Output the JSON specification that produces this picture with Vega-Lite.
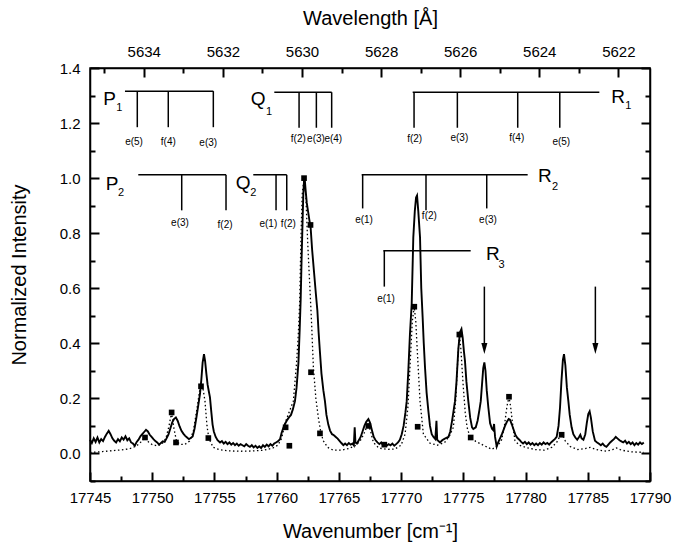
{
  "$schema": "https://vega.github.io/schema/vega-lite/v6.json",
  "width": 560,
  "height": 413,
  "autosize": "none",
  "padding": {"left": 90, "top": 68, "right": 25, "bottom": 64},
  "background": "white",
  "config": {
    "view": {"stroke": "black", "strokeWidth": 1.5},
    "font": "Liberation Sans",
    "axis": {
      "domainColor": "black", "domainWidth": 1.5,
      "labelColor": "black", "labelFontSize": 15, "labelFont": "Liberation Sans", "labelOverlap": false, "labelFlush": false,
      "titleFont": "Liberation Sans", "titleFontSize": 20, "titleFontWeight": "normal", "titleColor": "black",
      "grid": false, "ticks": true, "zindex": 1
    }
  },
  "datasets": {
    "obs": [
      {"x":17745.0,"y":0.050},{"x":17745.15,"y":0.038},{"x":17745.3,"y":0.055},{"x":17745.45,"y":0.042},{"x":17745.6,"y":0.058},{"x":17745.75,"y":0.040},{"x":17745.9,"y":0.052},{"x":17746.05,"y":0.045},{"x":17746.2,"y":0.060},{"x":17746.35,"y":0.072},{"x":17746.5,"y":0.082},{"x":17746.65,"y":0.070},{"x":17746.8,"y":0.055},{"x":17746.95,"y":0.046},{"x":17747.1,"y":0.040},{"x":17747.25,"y":0.052},{"x":17747.4,"y":0.044},{"x":17747.55,"y":0.058},{"x":17747.7,"y":0.050},{"x":17747.85,"y":0.062},{"x":17748.0,"y":0.048},{"x":17748.15,"y":0.055},{"x":17748.3,"y":0.040},{"x":17748.45,"y":0.036},{"x":17748.6,"y":0.028},{"x":17748.75,"y":0.042},{"x":17748.9,"y":0.050},{"x":17749.05,"y":0.062},{"x":17749.2,"y":0.070},{"x":17749.35,"y":0.078},{"x":17749.5,"y":0.086},{"x":17749.65,"y":0.080},{"x":17749.8,"y":0.068},{"x":17749.95,"y":0.060},{"x":17750.1,"y":0.052},{"x":17750.25,"y":0.045},{"x":17750.4,"y":0.040},{"x":17750.55,"y":0.032},{"x":17750.7,"y":0.038},{"x":17750.85,"y":0.044},{"x":17751.0,"y":0.042},{"x":17751.15,"y":0.055},{"x":17751.3,"y":0.068},{"x":17751.45,"y":0.090},{"x":17751.6,"y":0.112},{"x":17751.75,"y":0.125},{"x":17751.9,"y":0.131},{"x":17752.05,"y":0.118},{"x":17752.2,"y":0.098},{"x":17752.35,"y":0.082},{"x":17752.5,"y":0.072},{"x":17752.65,"y":0.064},{"x":17752.8,"y":0.058},{"x":17752.95,"y":0.052},{"x":17753.1,"y":0.056},{"x":17753.25,"y":0.062},{"x":17753.4,"y":0.090},{"x":17753.55,"y":0.130},{"x":17753.7,"y":0.175},{"x":17753.84,"y":0.216},{"x":17753.95,"y":0.270},{"x":17754.05,"y":0.330},{"x":17754.16,"y":0.361},{"x":17754.25,"y":0.335},{"x":17754.35,"y":0.290},{"x":17754.45,"y":0.250},{"x":17754.55,"y":0.225},{"x":17754.64,"y":0.204},{"x":17754.75,"y":0.150},{"x":17754.85,"y":0.105},{"x":17754.95,"y":0.080},{"x":17755.1,"y":0.060},{"x":17755.25,"y":0.048},{"x":17755.45,"y":0.040},{"x":17755.6,"y":0.045},{"x":17755.75,"y":0.036},{"x":17755.9,"y":0.042},{"x":17756.05,"y":0.034},{"x":17756.2,"y":0.040},{"x":17756.35,"y":0.032},{"x":17756.5,"y":0.038},{"x":17756.65,"y":0.030},{"x":17756.8,"y":0.036},{"x":17756.95,"y":0.028},{"x":17757.1,"y":0.034},{"x":17757.25,"y":0.030},{"x":17757.4,"y":0.026},{"x":17757.55,"y":0.034},{"x":17757.7,"y":0.028},{"x":17757.85,"y":0.024},{"x":17758.0,"y":0.030},{"x":17758.15,"y":0.022},{"x":17758.3,"y":0.028},{"x":17758.45,"y":0.020},{"x":17758.6,"y":0.026},{"x":17758.75,"y":0.020},{"x":17758.9,"y":0.030},{"x":17759.05,"y":0.024},{"x":17759.2,"y":0.032},{"x":17759.35,"y":0.026},{"x":17759.5,"y":0.034},{"x":17759.65,"y":0.028},{"x":17759.8,"y":0.036},{"x":17759.95,"y":0.040},{"x":17760.1,"y":0.044},{"x":17760.27,"y":0.052},{"x":17760.4,"y":0.075},{"x":17760.55,"y":0.095},{"x":17760.7,"y":0.110},{"x":17760.85,"y":0.122},{"x":17761.0,"y":0.132},{"x":17761.15,"y":0.140},{"x":17761.3,"y":0.160},{"x":17761.47,"y":0.190},{"x":17761.6,"y":0.240},{"x":17761.75,"y":0.330},{"x":17761.85,"y":0.450},{"x":17761.93,"y":0.560},{"x":17762.0,"y":0.700},{"x":17762.08,"y":0.840},{"x":17762.14,"y":0.940},{"x":17762.2,"y":0.990},{"x":17762.25,"y":1.000},{"x":17762.32,"y":0.960},{"x":17762.42,"y":0.910},{"x":17762.52,"y":0.880},{"x":17762.62,"y":0.850},{"x":17762.73,"y":0.820},{"x":17762.85,"y":0.740},{"x":17763.0,"y":0.660},{"x":17763.15,"y":0.580},{"x":17763.27,"y":0.520},{"x":17763.37,"y":0.440},{"x":17763.47,"y":0.373},{"x":17763.6,"y":0.290},{"x":17763.75,"y":0.230},{"x":17763.88,"y":0.190},{"x":17764.0,"y":0.140},{"x":17764.15,"y":0.105},{"x":17764.29,"y":0.083},{"x":17764.45,"y":0.070},{"x":17764.6,"y":0.066},{"x":17764.75,"y":0.060},{"x":17764.9,"y":0.054},{"x":17765.05,"y":0.046},{"x":17765.2,"y":0.038},{"x":17765.36,"y":0.030},{"x":17765.5,"y":0.036},{"x":17765.65,"y":0.030},{"x":17765.8,"y":0.038},{"x":17765.95,"y":0.032},{"x":17766.1,"y":0.036},{"x":17766.2,"y":0.030},{"x":17766.27,"y":0.095},{"x":17766.33,"y":0.040},{"x":17766.45,"y":0.036},{"x":17766.6,"y":0.048},{"x":17766.75,"y":0.060},{"x":17766.9,"y":0.080},{"x":17767.05,"y":0.100},{"x":17767.2,"y":0.115},{"x":17767.37,"y":0.125},{"x":17767.5,"y":0.112},{"x":17767.65,"y":0.085},{"x":17767.8,"y":0.060},{"x":17767.95,"y":0.048},{"x":17768.1,"y":0.040},{"x":17768.25,"y":0.034},{"x":17768.4,"y":0.040},{"x":17768.55,"y":0.030},{"x":17768.7,"y":0.036},{"x":17768.85,"y":0.028},{"x":17769.0,"y":0.034},{"x":17769.15,"y":0.030},{"x":17769.3,"y":0.036},{"x":17769.45,"y":0.028},{"x":17769.6,"y":0.034},{"x":17769.75,"y":0.040},{"x":17769.9,"y":0.050},{"x":17770.05,"y":0.070},{"x":17770.2,"y":0.100},{"x":17770.35,"y":0.150},{"x":17770.45,"y":0.190},{"x":17770.58,"y":0.300},{"x":17770.71,"y":0.434},{"x":17770.85,"y":0.543},{"x":17770.98,"y":0.785},{"x":17771.1,"y":0.880},{"x":17771.2,"y":0.930},{"x":17771.28,"y":0.937},{"x":17771.38,"y":0.880},{"x":17771.52,"y":0.785},{"x":17771.62,"y":0.600},{"x":17771.73,"y":0.495},{"x":17771.82,"y":0.400},{"x":17771.92,"y":0.313},{"x":17772.05,"y":0.220},{"x":17772.19,"y":0.155},{"x":17772.32,"y":0.100},{"x":17772.46,"y":0.070},{"x":17772.6,"y":0.060},{"x":17772.75,"y":0.052},{"x":17772.84,"y":0.119},{"x":17772.9,"y":0.050},{"x":17773.0,"y":0.045},{"x":17773.13,"y":0.040},{"x":17773.3,"y":0.048},{"x":17773.45,"y":0.052},{"x":17773.6,"y":0.056},{"x":17773.8,"y":0.060},{"x":17773.95,"y":0.080},{"x":17774.1,"y":0.120},{"x":17774.2,"y":0.150},{"x":17774.33,"y":0.190},{"x":17774.45,"y":0.260},{"x":17774.6,"y":0.380},{"x":17774.73,"y":0.440},{"x":17774.85,"y":0.452},{"x":17774.95,"y":0.420},{"x":17775.05,"y":0.370},{"x":17775.13,"y":0.337},{"x":17775.25,"y":0.260},{"x":17775.4,"y":0.190},{"x":17775.55,"y":0.130},{"x":17775.7,"y":0.095},{"x":17775.8,"y":0.089},{"x":17775.9,"y":0.092},{"x":17776.0,"y":0.095},{"x":17776.15,"y":0.120},{"x":17776.3,"y":0.160},{"x":17776.4,"y":0.190},{"x":17776.5,"y":0.250},{"x":17776.6,"y":0.310},{"x":17776.69,"y":0.331},{"x":17776.78,"y":0.300},{"x":17776.88,"y":0.230},{"x":17777.01,"y":0.167},{"x":17777.15,"y":0.110},{"x":17777.3,"y":0.090},{"x":17777.4,"y":0.085},{"x":17777.47,"y":0.107},{"x":17777.55,"y":0.060},{"x":17777.68,"y":0.025},{"x":17777.8,"y":0.040},{"x":17777.95,"y":0.055},{"x":17778.1,"y":0.070},{"x":17778.21,"y":0.083},{"x":17778.35,"y":0.100},{"x":17778.5,"y":0.115},{"x":17778.65,"y":0.125},{"x":17778.75,"y":0.123},{"x":17778.9,"y":0.105},{"x":17779.05,"y":0.085},{"x":17779.2,"y":0.066},{"x":17779.35,"y":0.056},{"x":17779.5,"y":0.050},{"x":17779.65,"y":0.042},{"x":17779.8,"y":0.036},{"x":17779.95,"y":0.042},{"x":17780.1,"y":0.034},{"x":17780.25,"y":0.040},{"x":17780.4,"y":0.032},{"x":17780.55,"y":0.038},{"x":17780.7,"y":0.030},{"x":17780.85,"y":0.036},{"x":17781.0,"y":0.030},{"x":17781.15,"y":0.038},{"x":17781.3,"y":0.032},{"x":17781.45,"y":0.040},{"x":17781.6,"y":0.034},{"x":17781.75,"y":0.038},{"x":17781.9,"y":0.032},{"x":17782.05,"y":0.040},{"x":17782.2,"y":0.046},{"x":17782.35,"y":0.052},{"x":17782.5,"y":0.060},{"x":17782.65,"y":0.100},{"x":17782.77,"y":0.167},{"x":17782.88,"y":0.260},{"x":17783.0,"y":0.340},{"x":17783.09,"y":0.361},{"x":17783.2,"y":0.320},{"x":17783.32,"y":0.240},{"x":17783.44,"y":0.190},{"x":17783.55,"y":0.140},{"x":17783.7,"y":0.095},{"x":17783.84,"y":0.070},{"x":17784.0,"y":0.058},{"x":17784.15,"y":0.050},{"x":17784.3,"y":0.060},{"x":17784.4,"y":0.068},{"x":17784.5,"y":0.055},{"x":17784.65,"y":0.050},{"x":17784.8,"y":0.070},{"x":17784.92,"y":0.110},{"x":17785.04,"y":0.143},{"x":17785.15,"y":0.153},{"x":17785.25,"y":0.130},{"x":17785.4,"y":0.080},{"x":17785.58,"y":0.046},{"x":17785.75,"y":0.040},{"x":17785.9,"y":0.035},{"x":17786.05,"y":0.030},{"x":17786.2,"y":0.036},{"x":17786.35,"y":0.028},{"x":17786.5,"y":0.024},{"x":17786.65,"y":0.032},{"x":17786.8,"y":0.040},{"x":17786.95,"y":0.046},{"x":17787.1,"y":0.052},{"x":17787.25,"y":0.060},{"x":17787.4,"y":0.054},{"x":17787.55,"y":0.048},{"x":17787.7,"y":0.044},{"x":17787.85,"y":0.040},{"x":17788.0,"y":0.046},{"x":17788.15,"y":0.036},{"x":17788.3,"y":0.042},{"x":17788.45,"y":0.034},{"x":17788.6,"y":0.040},{"x":17788.75,"y":0.030},{"x":17788.9,"y":0.038},{"x":17789.05,"y":0.032},{"x":17789.2,"y":0.040},{"x":17789.35,"y":0.034},{"x":17789.5,"y":0.040}
    ],
    "sim": [
      {"x":17745.0,"y":0.004},{"x":17745.5,"y":0.005},{"x":17746.0,"y":0.007},{"x":17746.5,"y":0.009},{"x":17747.0,"y":0.011},{"x":17747.5,"y":0.013},{"x":17748.0,"y":0.016},{"x":17748.4,"y":0.020},{"x":17748.8,"y":0.030},{"x":17749.1,"y":0.042},{"x":17749.4,"y":0.058},{"x":17749.7,"y":0.042},{"x":17750.0,"y":0.032},{"x":17750.4,"y":0.028},{"x":17750.8,"y":0.036},{"x":17751.1,"y":0.055},{"x":17751.35,"y":0.100},{"x":17751.56,"y":0.149},{"x":17751.75,"y":0.090},{"x":17751.95,"y":0.045},{"x":17752.2,"y":0.034},{"x":17752.6,"y":0.032},{"x":17753.0,"y":0.045},{"x":17753.3,"y":0.080},{"x":17753.57,"y":0.155},{"x":17753.8,"y":0.225},{"x":17753.95,"y":0.250},{"x":17754.1,"y":0.230},{"x":17754.24,"y":0.190},{"x":17754.4,"y":0.100},{"x":17754.55,"y":0.055},{"x":17754.9,"y":0.022},{"x":17755.4,"y":0.014},{"x":17756.0,"y":0.010},{"x":17757.0,"y":0.008},{"x":17758.0,"y":0.009},{"x":17759.0,"y":0.012},{"x":17759.7,"y":0.020},{"x":17760.1,"y":0.030},{"x":17760.4,"y":0.055},{"x":17760.67,"y":0.110},{"x":17761.0,"y":0.150},{"x":17761.34,"y":0.190},{"x":17761.6,"y":0.330},{"x":17761.74,"y":0.434},{"x":17761.85,"y":0.550},{"x":17761.95,"y":0.780},{"x":17762.05,"y":0.940},{"x":17762.2,"y":1.000},{"x":17762.35,"y":0.930},{"x":17762.5,"y":0.760},{"x":17762.65,"y":0.620},{"x":17762.8,"y":0.480},{"x":17762.95,"y":0.313},{"x":17763.15,"y":0.200},{"x":17763.35,"y":0.130},{"x":17763.55,"y":0.075},{"x":17763.75,"y":0.046},{"x":17764.1,"y":0.022},{"x":17764.55,"y":0.012},{"x":17765.2,"y":0.012},{"x":17765.8,"y":0.018},{"x":17766.3,"y":0.028},{"x":17766.7,"y":0.045},{"x":17767.0,"y":0.070},{"x":17767.25,"y":0.098},{"x":17767.4,"y":0.100},{"x":17767.55,"y":0.080},{"x":17767.77,"y":0.040},{"x":17768.2,"y":0.020},{"x":17768.8,"y":0.015},{"x":17769.5,"y":0.016},{"x":17770.0,"y":0.030},{"x":17770.32,"y":0.070},{"x":17770.55,"y":0.170},{"x":17770.71,"y":0.313},{"x":17770.9,"y":0.480},{"x":17771.05,"y":0.533},{"x":17771.18,"y":0.480},{"x":17771.3,"y":0.373},{"x":17771.52,"y":0.190},{"x":17771.79,"y":0.070},{"x":17772.3,"y":0.038},{"x":17772.9,"y":0.030},{"x":17773.5,"y":0.040},{"x":17773.9,"y":0.065},{"x":17774.2,"y":0.095},{"x":17774.4,"y":0.200},{"x":17774.52,"y":0.313},{"x":17774.68,"y":0.432},{"x":17774.8,"y":0.380},{"x":17774.98,"y":0.252},{"x":17775.15,"y":0.150},{"x":17775.3,"y":0.095},{"x":17775.55,"y":0.058},{"x":17776.0,"y":0.044},{"x":17776.6,"y":0.030},{"x":17777.3,"y":0.015},{"x":17777.8,"y":0.030},{"x":17778.08,"y":0.050},{"x":17778.3,"y":0.100},{"x":17778.5,"y":0.170},{"x":17778.67,"y":0.206},{"x":17778.8,"y":0.170},{"x":17778.95,"y":0.110},{"x":17779.15,"y":0.046},{"x":17779.5,"y":0.030},{"x":17780.0,"y":0.022},{"x":17780.8,"y":0.014},{"x":17781.5,"y":0.012},{"x":17782.1,"y":0.022},{"x":17782.5,"y":0.040},{"x":17782.8,"y":0.066},{"x":17782.95,"y":0.068},{"x":17783.2,"y":0.045},{"x":17783.6,"y":0.025},{"x":17784.2,"y":0.014},{"x":17784.8,"y":0.018},{"x":17785.2,"y":0.022},{"x":17785.7,"y":0.014},{"x":17786.5,"y":0.008},{"x":17787.0,"y":0.014},{"x":17787.3,"y":0.020},{"x":17787.7,"y":0.012},{"x":17788.5,"y":0.006},{"x":17789.5,"y":0.004}
    ],
    "sq": [
      {"x":17749.42,"y":0.058},{"x":17751.56,"y":0.149},{"x":17751.91,"y":0.040},{"x":17753.92,"y":0.244},{"x":17754.51,"y":0.056},{"x":17760.72,"y":0.095},{"x":17761.02,"y":0.028},{"x":17762.2,"y":1.0},{"x":17762.72,"y":0.83},{"x":17762.76,"y":0.295},{"x":17763.48,"y":0.073},{"x":17767.37,"y":0.100},{"x":17768.65,"y":0.032},{"x":17771.06,"y":0.533},{"x":17771.33,"y":0.097},{"x":17774.68,"y":0.432},{"x":17775.59,"y":0.058},{"x":17778.67,"y":0.206},{"x":17782.9,"y":0.068}
    ],
    "combs": [
      {"x":17747.81,"x2":17754.91,"y":1.316,"y2":1.316},
      {"x":17748.80,"x2":17748.80,"y":1.316,"y2":1.185},
      {"x":17751.29,"x2":17751.29,"y":1.316,"y2":1.185},
      {"x":17754.91,"x2":17754.91,"y":1.316,"y2":1.185},
      {"x":17759.81,"x2":17764.42,"y":1.312,"y2":1.312},
      {"x":17761.80,"x2":17761.80,"y":1.312,"y2":1.183},
      {"x":17763.19,"x2":17763.19,"y":1.312,"y2":1.183},
      {"x":17764.42,"x2":17764.42,"y":1.312,"y2":1.183},
      {"x":17770.93,"x2":17785.93,"y":1.312,"y2":1.312},
      {"x":17771.04,"x2":17771.04,"y":1.312,"y2":1.183},
      {"x":17774.52,"x2":17774.52,"y":1.312,"y2":1.183},
      {"x":17779.37,"x2":17779.37,"y":1.312,"y2":1.183},
      {"x":17782.75,"x2":17782.75,"y":1.312,"y2":1.183},
      {"x":17748.88,"x2":17755.93,"y":1.012,"y2":1.012},
      {"x":17752.37,"x2":17752.37,"y":1.012,"y2":0.883},
      {"x":17755.93,"x2":17755.93,"y":1.012,"y2":0.883},
      {"x":17758.12,"x2":17760.81,"y":1.012,"y2":1.012},
      {"x":17759.95,"x2":17759.95,"y":1.012,"y2":0.883},
      {"x":17760.81,"x2":17760.81,"y":1.012,"y2":0.883},
      {"x":17766.83,"x2":17780.17,"y":1.012,"y2":1.012},
      {"x":17766.91,"x2":17766.91,"y":1.012,"y2":0.89},
      {"x":17772.0,"x2":17772.0,"y":1.012,"y2":0.883},
      {"x":17776.88,"x2":17776.88,"y":1.012,"y2":0.89},
      {"x":17768.57,"x2":17775.59,"y":0.736,"y2":0.736},
      {"x":17768.65,"x2":17768.65,"y":0.736,"y2":0.606},
      {"x":17776.69,"x2":17776.69,"y":0.606,"y2":0.39},
      {"x":17785.61,"x2":17785.61,"y":0.606,"y2":0.39}
    ],
    "heads": [{"x":17776.69,"y":0.381},{"x":17785.61,"y":0.381}],
    "lbl": [
      {"x":17748.54,"y":1.133,"t":"e(5)"},{"x":17751.29,"y":1.133,"t":"f(4)"},{"x":17754.5,"y":1.127,"t":"e(3)"},
      {"x":17761.74,"y":1.143,"t":"f(2)"},{"x":17763.16,"y":1.143,"t":"e(3)"},{"x":17764.55,"y":1.143,"t":"e(4)"},
      {"x":17771.09,"y":1.141,"t":"f(2)"},{"x":17774.68,"y":1.144,"t":"e(3)"},{"x":17779.29,"y":1.144,"t":"f(4)"},{"x":17782.87,"y":1.133,"t":"e(5)"},
      {"x":17752.23,"y":0.836,"t":"e(3)"},{"x":17755.85,"y":0.828,"t":"f(2)"},
      {"x":17759.33,"y":0.834,"t":"e(1)"},{"x":17760.94,"y":0.834,"t":"f(2)"},
      {"x":17767.02,"y":0.849,"t":"e(1)"},{"x":17772.27,"y":0.862,"t":"f(2)"},{"x":17776.98,"y":0.849,"t":"e(3)"},
      {"x":17768.79,"y":0.56,"t":"e(1)"}
    ],
    "big": [
      {"x":17746.58,"y":1.289,"t":"P"},{"x":17758.52,"y":1.287,"t":"Q"},{"x":17787.43,"y":1.295,"t":"R"},
      {"x":17746.77,"y":0.98,"t":"P"},{"x":17757.3,"y":0.983,"t":"Q"},{"x":17781.56,"y":1.006,"t":"R"},
      {"x":17777.38,"y":0.724,"t":"R"}
    ],
    "sub": [
      {"x":17747.36,"y":1.256,"t":"1"},{"x":17759.38,"y":1.24,"t":"1"},{"x":17788.26,"y":1.261,"t":"1"},
      {"x":17747.49,"y":0.945,"t":"2"},{"x":17758.12,"y":0.945,"t":"2"},{"x":17782.37,"y":0.967,"t":"2"},
      {"x":17778.08,"y":0.686,"t":"3"}
    ]
  },
  "layer": [
    {
      "data": {"values": [{"wl": 5628, "yy": 0.5}]},
      "mark": {"type": "point", "opacity": 0},
      "encoding": {
        "x": {"field": "wl", "type": "quantitative",
          "scale": {"domain": [5621.2, 5635.36], "reverse": true, "nice": false, "zero": false},
          "axis": {"orient": "top", "values": [5622,5623,5624,5625,5626,5627,5628,5629,5630,5631,5632,5633,5634,5635],
            "format": "d", "labelExpr": "datum.value % 2 === 0 ? datum.label : ''",
            "tickColor": "#000000", "tickWidth": 2,
            "tickSize": {"condition": {"test": "datum.value % 2 === 0", "value": -9}, "value": -5},
            "labelPadding": 18, "title": "Wavelength [Å]", "titlePadding": 12}},
        "y": {"field": "yy", "type": "quantitative",
          "scale": {"domain": [-0.1, 1.4], "nice": false, "zero": false},
          "axis": {"orient": "right", "values": [-0.1,0,0.1,0.2,0.3,0.4,0.5,0.6,0.7,0.8,0.9,1.0,1.1,1.2,1.3,1.4],
            "labels": false, "title": null, "tickColor": "#000000", "tickWidth": 2,
            "tickSize": {"condition": {"test": "round(datum.value*10) % 2 === 0", "value": -9}, "value": -5}}}
      }
    },
    {
      "encoding": {
        "x": {"field": "x", "type": "quantitative",
          "scale": {"domain": [17745, 17790], "nice": false, "zero": false},
          "axis": {"orient": "bottom", "values": [17745,17747.5,17750,17752.5,17755,17757.5,17760,17762.5,17765,17767.5,17770,17772.5,17775,17777.5,17780,17782.5,17785,17787.5,17790],
            "format": "d", "labelExpr": "datum.value % 5 === 0 ? datum.label : ''",
            "tickColor": "#000000", "tickWidth": 2,
            "tickSize": {"condition": {"test": "datum.value % 5 === 0", "value": -9}, "value": -5},
            "labelPadding": 18, "title": "Wavenumber [cm⁻¹]", "titlePadding": 12}},
        "y": {"field": "y", "type": "quantitative",
          "scale": {"domain": [-0.1, 1.4], "nice": false, "zero": false},
          "axis": {"orient": "left", "values": [-0.1,0,0.1,0.2,0.3,0.4,0.5,0.6,0.7,0.8,0.9,1.0,1.1,1.2,1.3,1.4],
            "format": ".1f", "labelExpr": "round(datum.value*10) % 2 === 0 ? datum.label : ''",
            "tickColor": "#000000", "tickWidth": 2,
            "tickSize": {"condition": {"test": "round(datum.value*10) % 2 === 0", "value": -9}, "value": -5},
            "labelPadding": 19, "title": "Normalized Intensity", "titlePadding": 30}}
      },
      "layer": [
        {"data": {"name": "sim"}, "mark": {"type": "line", "color": "black", "strokeWidth": 1.3, "strokeDash": [1.5, 2.5]}},
        {"data": {"name": "obs"}, "mark": {"type": "line", "color": "black", "strokeWidth": 1.9}},
        {"data": {"name": "sq"}, "mark": {"type": "point", "shape": "square", "filled": true, "color": "black", "size": 32, "opacity": 1}},
        {"data": {"name": "combs"}, "mark": {"type": "rule", "color": "black", "strokeWidth": 1.5},
          "encoding": {"x2": {"field": "x2"}, "y2": {"field": "y2"}}},
        {"data": {"name": "heads"}, "mark": {"type": "point", "shape": "M-0.55,-1L0.55,-1L0,1Z", "filled": true, "color": "black", "size": 121, "opacity": 1}},
        {"data": {"name": "lbl"}, "mark": {"type": "text", "fontSize": 10, "color": "black", "align": "center", "baseline": "middle"},
          "encoding": {"text": {"field": "t"}}},
        {"data": {"name": "big"}, "mark": {"type": "text", "fontSize": 19, "color": "black", "align": "center", "baseline": "middle"},
          "encoding": {"text": {"field": "t"}}},
        {"data": {"name": "sub"}, "mark": {"type": "text", "fontSize": 11, "color": "black", "align": "center", "baseline": "middle"},
          "encoding": {"text": {"field": "t"}}}
      ]
    }
  ],
  "resolve": {"scale": {"x": "independent", "y": "independent"}}
}
